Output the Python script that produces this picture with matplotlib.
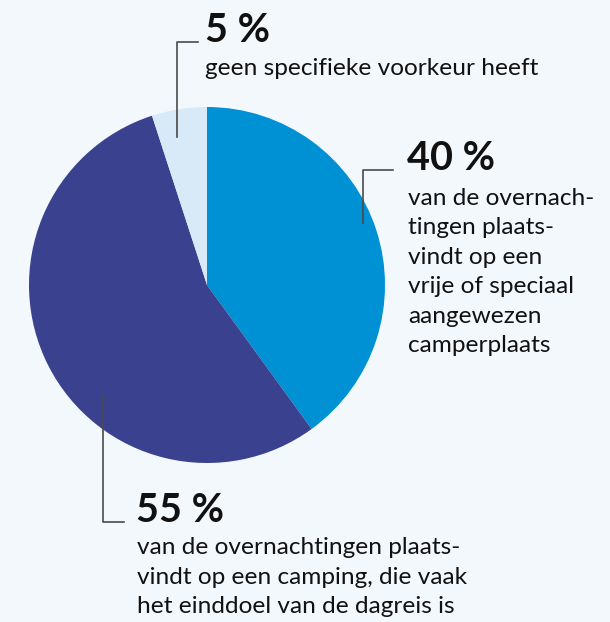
import matplotlib
matplotlib.use('Agg')
import matplotlib.pyplot as plt

# Data
shares = [40, 55, 5]
labels_pct = ['40 %', '55 %', '5 %']
colors = ['#0091d5', '#3a418f', '#d8e9f8']

text_40 = ['van de overnach-', 'tingen plaats-', 'vindt op een',
           'vrije of speciaal', 'aangewezen', 'camperplaats']
text_55 = ['van de overnachtingen plaats-',
           'vindt op een camping, die vaak',
           'het einddoel van de dagreis is']
text_5 = ['geen specifieke voorkeur heeft']

W, H = 610, 622
BG = '#f3f8fd'
TXT = '#111111'
LINE = '#4a4a4a'


def Y(y):
    # image pixel row -> data y
    return H - y


fig = plt.figure(figsize=(W / 100, H / 100), dpi=100, facecolor=BG)
ax = fig.add_axes([0, 0, 1, 1])
ax.set_facecolor(BG)

# Pie, clockwise from 12 o'clock
ax.pie(shares, colors=colors, startangle=90, counterclock=False,
       center=(207, Y(285)), radius=178,
       wedgeprops=dict(linewidth=0))

ax.set_xlim(0, W)
ax.set_ylim(0, H)
ax.set_aspect('equal')
ax.axis('off')

# Leader lines
ax.plot([177, 177, 198], [Y(137), Y(42), Y(42)], color=LINE, lw=1.2)
ax.plot([363, 363, 393], [Y(223), Y(170), Y(170)], color=LINE, lw=1.2)
ax.plot([103, 103, 124], [Y(394), Y(522), Y(522)], color=LINE, lw=1.2)

big = dict(fontfamily='Lato', fontweight='bold', fontsize=28.5, color=TXT, va='baseline')
body = dict(fontfamily='Lato', fontsize=17.6, color=TXT, va='baseline')

# 5 %
ax.text(205, Y(42), labels_pct[2], **big)
ax.text(205, Y(75), text_5[0], **body)

# 40 %
ax.text(407, Y(170), labels_pct[0], **big)
for i, line in enumerate(text_40):
    ax.text(408, Y(205 + i * 29.4), line, **body)

# 55 %
ax.text(136, Y(522), labels_pct[1], **big)
for i, line in enumerate(text_55):
    ax.text(137, Y(554 + i * 29.5), line, **body)

fig.savefig('out.png', dpi=100, facecolor=BG)
